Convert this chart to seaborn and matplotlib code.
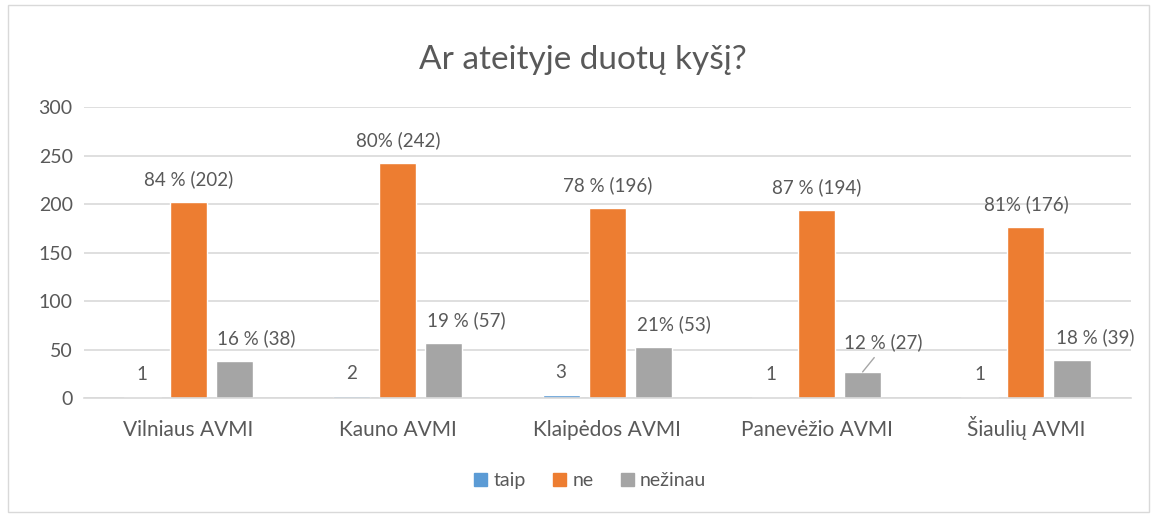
import pandas as pd
import matplotlib
matplotlib.use("Agg")
import matplotlib.pyplot as plt
import seaborn as sns
from matplotlib.patches import Rectangle

# Chart data
offices = ["Vilniaus AVMI", "Kauno AVMI", "Klaipėdos AVMI", "Panevėžio AVMI", "Šiaulių AVMI"]
answers = ["taip", "ne", "nežinau"]
taip = [1, 2, 3, 1, 1]
ne = [202, 242, 196, 194, 176]
nezinau = [38, 57, 53, 27, 39]
taip_labels = ["1", "2", "3", "1", "1"]
ne_labels = ["84 % (202)", "80% (242)", "78 % (196)", "87 % (194)", "81% (176)"]
nezinau_labels = ["16 % (38)", "19 % (57)", "21% (53)", "12 % (27)", "18 % (39)"]

df = pd.DataFrame({
    "office": offices * 3,
    "answer": [a for a in answers for _ in offices],
    "count": taip + ne + nezinau,
})

colors = {"taip": "#5B9BD5", "ne": "#ED7D31", "nežinau": "#A5A5A5"}
text_color = "#595959"
grid_color = "#D9D9D9"

sns.set_style("white")
plt.rcParams["font.family"] = ["Lato", "DejaVu Sans"]

fig = plt.figure(figsize=(11.57, 5.17), dpi=100)
ax = fig.add_axes([0.0724, 0.230, 0.9048, 0.563])

sns.barplot(data=df, x="office", y="count", hue="answer", palette=colors,
            order=offices, hue_order=answers, width=0.66, saturation=1,
            legend=False, ax=ax)

# narrower bars with a small gap between them
for container in ax.containers:
    for bar in container:
        cx = bar.get_x() + bar.get_width() / 2
        bar.set_width(0.177)
        bar.set_x(cx - 0.177 / 2)

ax.set_xlim(-0.5, 4.5)
ax.set_ylim(0, 300)
ax.set_yticks(range(0, 301, 50))
ax.yaxis.grid(True, color=grid_color, linewidth=1.2)
ax.set_axisbelow(True)
for side in ["left", "right", "top"]:
    ax.spines[side].set_visible(False)
ax.spines["bottom"].set_color(grid_color)
ax.spines["bottom"].set_linewidth(1.2)
ax.tick_params(axis="y", length=0, labelsize=14, labelcolor=text_color, pad=8)
ax.tick_params(axis="x", length=0, labelsize=15, labelcolor=text_color, pad=27)
for lab in ax.get_xticklabels():
    lab.set_va("baseline")
ax.set_xlabel("")
ax.set_ylabel("")

# Data labels
label_sets = [taip_labels, ne_labels, nezinau_labels]
x_shift = [[0, 0, 0, 0, 0], [0, 0, 0, 0, 0], [16, 16, 15, 15, 17]]
for k, (container, labels, shifts) in enumerate(zip(ax.containers, label_sets, x_shift)):
    for i, (bar, lab) in enumerate(zip(container, labels)):
        cx = bar.get_x() + bar.get_width() / 2
        top = bar.get_height()
        if k == 2 and i == 3:
            ax.annotate(lab, xy=(cx, top), xytext=(shifts[i], 15), textcoords="offset points",
                        ha="center", va="bottom", fontsize=13.5, color=text_color,
                        arrowprops=dict(arrowstyle="-", color="#A6A6A6", lw=1,
                                        shrinkA=3, shrinkB=0, relpos=(0.45, 0.0)))
            continue
        ax.annotate(lab, xy=(cx, top), xytext=(shifts[i], 10), textcoords="offset points",
                    ha="center", va="bottom", fontsize=13.5, color=text_color)

fig.suptitle("Ar ateityje duotų kyšį?", x=0.504, y=0.867, va="baseline",
             fontsize=24, color=text_color)

handles = [plt.Rectangle((0, 0), 1, 1, color=colors[a]) for a in answers]
fig.legend(handles, answers, loc="center", bbox_to_anchor=(0.51, 0.07), ncol=3,
           frameon=False, fontsize=14, labelcolor=text_color,
           handlelength=0.7, handleheight=0.7, handletextpad=0.3, columnspacing=1.4)

fig.patches.append(Rectangle((0.007, 0.01), 0.986, 0.98, transform=fig.transFigure,
                             fill=False, edgecolor="#D9D9D9", linewidth=1))

fig.savefig("out.png", dpi=100)
